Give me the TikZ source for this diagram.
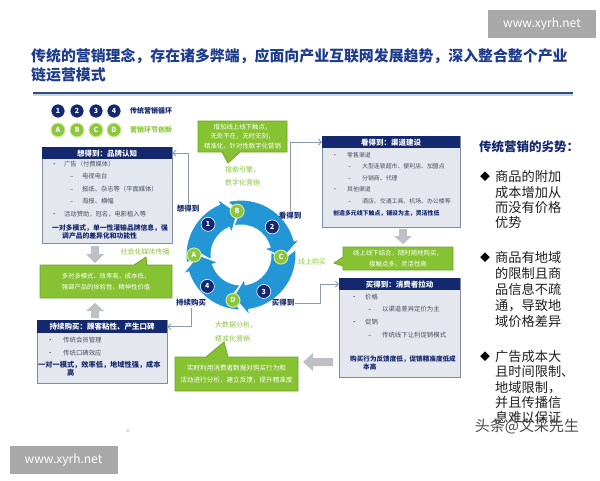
\documentclass[tikz,border=0pt]{standalone}
\usepackage{fontspec}
\setmainfont{Noto Sans CJK SC}
\usetikzlibrary{calc,arrows.meta}
\definecolor{navy}{HTML}{13286E}
\definecolor{titleblue}{HTML}{1E3C8C}
\definecolor{lime}{HTML}{86C232}
\definecolor{limeD}{HTML}{6EA42A}
\definecolor{lgreen}{HTML}{8CC63F}
\definecolor{lgreenL}{HTML}{D2E89A}
\definecolor{boxgray}{HTML}{E4E7ED}
\definecolor{boxedge}{HTML}{7F8DA3}
\definecolor{bodygray}{HTML}{4A4F5C}
\definecolor{ringblue}{HTML}{2396D6}
\definecolor{arrowgray}{HTML}{BDC0C6}
\definecolor{wmgray}{HTML}{A8A8A8}
\definecolor{linegray}{HTML}{8A99AE}
\definecolor{divline}{HTML}{2F4F7A}
\definecolor{divshadow}{HTML}{C9D5E6}
\begin{document}
\begin{tikzpicture}[x=1pt,y=-1pt,
  panel/.style={fill=boxgray,draw=boxedge,line width=0.8pt,anchor=north west,inner sep=0},
  hdr/.style={fill=navy,text=white,font=\bfseries\fontsize{7.5}{9}\selectfont,inner sep=0,anchor=north west,minimum height=12pt},
  body/.style={anchor=north west,inner sep=0,align=left,text=bodygray},
  summ/.style={anchor=north west,inner sep=0,align=left,text=navy},
  lab/.style={font=\bfseries\fontsize{7.5}{9}\selectfont,text=navy,inner sep=1pt},
  glab/.style={text=lgreen,inner sep=0,align=left},
  conn/.style={draw=linegray,line width=0.9pt,-{Straight Barb[length=3pt,width=6pt]}},
  gbox/.style={fill=lime,draw=limeD,line width=0.8pt},
  gtext/.style={text=white,inner sep=0,align=center},
  numc/.style={circle,fill=navy,draw=white,line width=0.6pt,minimum size=14pt,inner sep=0,text=white,font=\bfseries\fontsize{7}{8}\selectfont},
  letc/.style={circle,fill=lgreen,draw=lgreenL,line width=1pt,minimum size=14pt,inner sep=0,text=white,font=\bfseries\fontsize{7}{8}\selectfont},
  blockarrow/.style={fill=arrowgray},
  wm/.style={fill=wmgray,text=white,minimum width=108pt,minimum height=28pt,inner sep=0,font=\fontsize{12}{14}\selectfont}
]
\useasboundingbox (0,0) rectangle (600,480);
\fill[white] (0,0) rectangle (600,480);

% watermarks
\node[wm] (wm1) at (542,24) {www.xyrh.net};
\node[wm] (wm2) at (63.5,460) {www.xyrh.net};

% title
\node[anchor=west,inner sep=0,text=titleblue,font=\bfseries\fontsize{14.9}{17}\selectfont] (title1) at (31,56) {传统的营销理念，存在诸多弊端，应面向产业互联网发展趋势，深入整合整个产业};
\node[anchor=west,inner sep=0,text=titleblue,font=\bfseries\fontsize{14.9}{17}\selectfont] (title2) at (31,75) {链运营模式};
\draw[divshadow,line width=1.5pt] (33,95) -- (573,95);
\draw[divline,line width=1.5pt] (33,93) -- (573,93);

% legend
\foreach \i/\x in {1/58,2/77,3/96,4/114}{
  \node[numc] (leg\i) at (\x,111) {\i};
}
\foreach \l/\x in {A/58,B/77,C/96,D/114}{
  \node[letc] (leg\l) at (\x,130) {\l};
}
\node[anchor=west,inner sep=0,text=navy,font=\bfseries\fontsize{7}{8}\selectfont] (legt1) at (130,111) {传统营销循环};
\node[anchor=west,inner sep=0,text=lgreen,font=\bfseries\fontsize{7}{8}\selectfont] (legt2) at (130,130) {营销环节创新};

% ---------- left top box
\node[panel,minimum width=130pt,minimum height=96pt] (lbox) at (42,147) {};
\node[hdr,minimum width=130pt] (lhead) at (42,147) {想得到：品牌认知};
\node[body,font=\fontsize{6.3}{12.5}\selectfont] (lbody) at (51,160.8) {%
\makebox[13pt][l]{•}广告（付费媒体）\\
\hspace*{19pt}\makebox[12pt][l]{–}电视电台\\
\hspace*{19pt}\makebox[12pt][l]{–}报纸、杂志等（平面媒体）\\
\hspace*{19pt}\makebox[12pt][l]{–}海报、横幅\\
\makebox[13pt][l]{•}活动赞助，冠名，电影植入等};
\node[summ,font=\bfseries\fontsize{6.8}{8}\selectfont] (lsum) at (52,224.3) {一对多模式，单一性灌输品牌信息，强\\\hspace*{10pt}调产品的差异化和功能性};

% ---------- right top box
\node[panel,minimum width=138pt,minimum height=91pt] (rbox) at (322,136) {};
\node[hdr,minimum width=138pt] (rhead) at (322,136) {看得到：渠道建设};
\node[body,font=\fontsize{5.9}{11.5}\selectfont] (rbody) at (332,152) {%
\makebox[15pt][l]{•}零售渠道\\
\hspace*{16pt}\makebox[14pt][l]{–}大型连锁超市、便利店、加盟点\\
\hspace*{16pt}\makebox[14pt][l]{–}分销商、代理\\
\makebox[15pt][l]{•}其他渠道\\
\hspace*{16pt}\makebox[14pt][l]{–}酒店、交通工具、机场、办公楼等};
\node[summ,font=\bfseries\fontsize{5.9}{7}\selectfont] (rsum) at (333,210) {创造多元线下触点，铺设为主，灵活性低};

% ---------- right lower box
\node[panel,minimum width=121pt,minimum height=99pt] (mbox) at (339,278) {};
\node[hdr,minimum width=121pt] (mhead) at (339,278) {买得到：消费者拉动};
\node[body,font=\fontsize{6.4}{12.7}\selectfont] (mbody) at (351,293.7) {%
\makebox[14pt][l]{•}价格\\
\hspace*{17pt}\makebox[14pt][l]{–}以渠道差异定价为主\\
\makebox[14pt][l]{•}促销\\
\hspace*{17pt}\makebox[14pt][l]{–}传统线下让利促销模式};
\node[summ,font=\bfseries\fontsize{6.6}{8}\selectfont] (msum) at (350,355.6) {购买行为反馈度低，促销精准度低成\\\hspace*{13pt}本高};

% ---------- left lower box
\node[panel,minimum width=130pt,minimum height=63pt] (cbox) at (37,320) {};
\node[hdr,minimum width=130pt,minimum height=13pt] (chead) at (37,320) {持续购买：顾客粘性、产生口碑};
\node[body,font=\fontsize{6.4}{13}\selectfont] (cbody) at (47,336.7) {%
\makebox[16pt][l]{•}传统会员管理\\
\makebox[16pt][l]{•}传统口碑效应};
\node[summ,font=\bfseries\fontsize{7.2}{8}\selectfont] (csum) at (38,360.8) {一对一模式，效率低，地域性强，成本\\\hspace*{29pt}高};

% ---------- green callouts
\path[gbox] (198,121) -- (287,121) -- (287,152) -- (240,152) -- (228,163) -- (222,152) -- (198,152) -- cycle;
\node[gtext,font=\fontsize{6.4}{9.5}\selectfont] (gt1) at (242.5,136.5) {增加线上线下触点，\\无处不在，无时无刻，\\精准化，针对性数字化营销};

\path[gbox] (40,265) -- (134,265) -- (146,257) -- (147,265) -- (172,265) -- (172,298) -- (40,298) -- cycle;
\node[gtext,font=\fontsize{6.3}{11}\selectfont] (gt2) at (106,282) {多对多模式，效率高，成本低，\\强调产品的体验性，精神性价值};

\path[gbox] (343,247) -- (453,247) -- (453,270) -- (343,270) -- (343,266) -- (334,263) -- (343,257) -- cycle;
\node[gtext,font=\fontsize{6.4}{11}\selectfont] (gt3) at (398,258.5) {线上线下结合，随时随地购买，\\接触点多，灵活性高};

\path[gbox] (175,357) -- (206,357) -- (224,342) -- (228,357) -- (298,357) -- (298,391) -- (175,391) -- cycle;
\node[gtext,font=\fontsize{6.6}{12}\selectfont] (gt4) at (236.5,374) {实时利用消费者数据对购买行为和\\活动进行分析，建立反馈，提升精准度};

% ---------- gray block arrows
\fill[blockarrow] (91,246) -- (99,246) -- (99,254) -- (104,254) -- (95,263) -- (86,254) -- (91,254) -- cycle;
\fill[blockarrow] (91,318) -- (99,318) -- (99,311) -- (104,311) -- (95,303) -- (86,311) -- (91,311) -- cycle;
\fill[blockarrow] (399,229) -- (407,229) -- (407,236) -- (412,236) -- (403,244) -- (394,236) -- (399,236) -- cycle;
\fill[blockarrow] (333,358) -- (333,366) -- (313,366) -- (313,371) -- (303,362) -- (313,353) -- (313,358) -- cycle;

% ---------- cycle
\coordinate (C) at (241,255);
\foreach \a/\b in {180/265,265/363,3/100,100/180}{
  \filldraw[fill=ringblue,draw=white,line width=1pt,line join=miter]
   ($(C)+(\a-9:55)$) arc[start angle=\a-9,end angle=\b-18,radius=55]
   -- ($(C)+(\b-18:61)$) -- ($(C)+(\b:42.5)$) -- ($(C)+(\b-18:24)$)
   -- ($(C)+(\b-18:30)$) arc[start angle=\b-18,end angle=\a-9,radius=30]
   -- ($(C)+(\a+3:42.5)$) -- cycle;
}
\node[numc] (n1) at ($(C)+(223:45)$) {1};
\node[numc] (n2) at ($(C)+(318:42)$) {2};
\node[numc] (n3) at ($(C)+(58:43)$) {3};
\node[numc] (n4) at ($(C)+(137:46)$) {4};
\node[letc] (cB) at ($(C)+(265:44)$) {B};
\node[letc] (cC) at ($(C)+(3:40)$) {C};
\node[letc] (cD) at ($(C)+(100:46)$) {D};
\node[letc] (cA) at ($(C)+(180:47)$) {A};

% ---------- cycle labels
\node[lab] (xiang) at (188,209) {想得到};
\node[lab] (kan) at (290,216) {看得到};
\node[lab] (mai) at (283,303) {买得到};
\node[lab] (chixu) at (191,303) {持续购买};
\node[glab,font=\fontsize{7}{8}\selectfont] (xsgm) at (312,262) {线上购买};
\node[glab,font=\fontsize{7}{8}\selectfont] (shmt) at (145,252) {社会化媒体传播};
\node[glab,anchor=north west,font=\fontsize{7}{12.5}\selectfont] (ssyq) at (225,166.5) {搜索引擎，\\数字化营销};
\node[glab,anchor=north west,font=\fontsize{7}{14}\selectfont] (dsj) at (215,321.5) {大数据分析，\\精准化营销};

% connectors
\draw[conn] (xiang.north) |- (lhead.east);
\draw[conn] (kan.north) |- (rhead.west);
\coordinate (maibend) at (320,303);
\draw[conn] (mai.east) -- (maibend) |- (mhead.west);
\draw[conn] (chixu.south) |- (chead.east);

% copyright mark
\node[text=gray,inner sep=0,font=\fontsize{4}{5}\selectfont] (copy) at (128,431) {©};

% ---------- right panel
\node[anchor=west,inner sep=0,text=navy,font=\bfseries\fontsize{12.5}{14}\selectfont] (rtitle) at (479,147) {传统营销的劣势：};
\node[inner sep=0,font=\fontsize{10}{12}\selectfont] (d1) at (485,177) {◆};
\node[inner sep=0,font=\fontsize{10}{12}\selectfont] (d2) at (485,258) {◆};
\node[inner sep=0,font=\fontsize{10}{12}\selectfont] (d3) at (485,357) {◆};
\node[anchor=north west,inner sep=0,align=left,text=black!88,font=\fontsize{13.2}{15.4}\selectfont] (p1) at (495,170.3) {商品的附加\\成本增加从\\而没有价格\\优势};
\node[anchor=north west,inner sep=0,align=left,text=black!88,font=\fontsize{13.2}{16}\selectfont] (p2) at (495,251.3) {商品有地域\\的限制且商\\品信息不疏\\通，导致地\\域价格差异};
\node[anchor=north west,inner sep=0,align=left,text=black!88,font=\fontsize{13.2}{15.3}\selectfont] (p3) at (495,350.3) {广告成本大\\且时间限制、\\地域限制，\\并且传播信\\息难以保证};
\node[inner sep=0,text=black!70,font=\fontsize{15}{17}\selectfont] (wm3) at (527,426) {头条@文采先生};
\end{tikzpicture}
\end{document}
